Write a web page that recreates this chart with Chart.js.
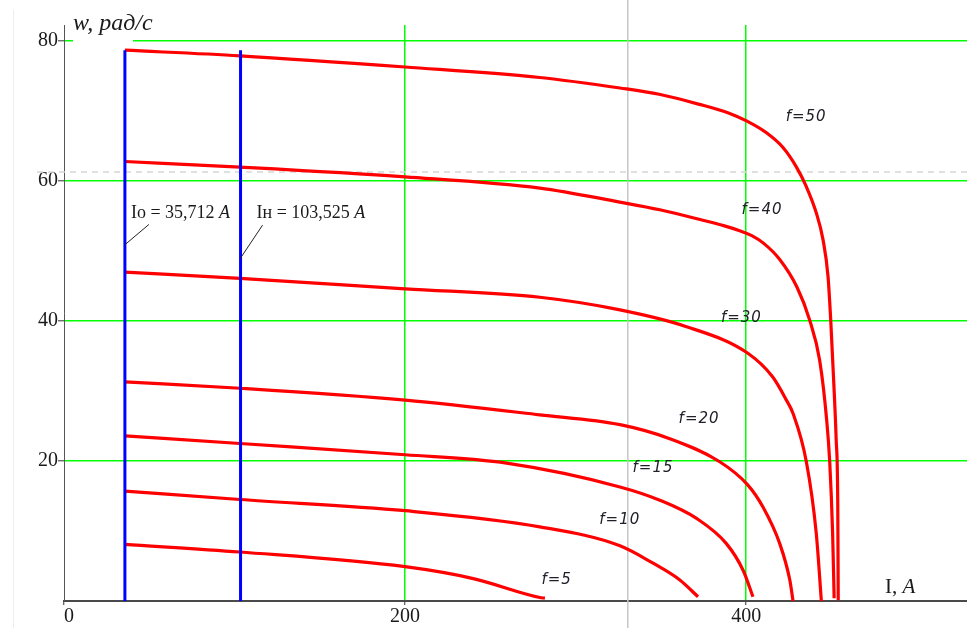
<!DOCTYPE html>
<html>
<head>
<meta charset="utf-8">
<script src="https://cdn.jsdelivr.net/npm/chart.js@4.4.1/dist/chart.umd.min.js"></script>
<style>
  html, body { margin: 0; padding: 0; background: #fff; }
  #wrap { width: 967px; height: 628px; position: relative; }
</style>
</head>
<body>
<div id="wrap"><canvas id="c" width="967" height="628"></canvas></div>
<script>
// Axis ticks and ranges
const currentTicks = [0, 200, 400];
const speedTicks = [20, 40, 60, 80];
const currentMax = 529.5;
const speedMax = 82.3;

// Mechanical characteristics w(I) for each supply frequency
const f5I  = [35.7, 103.2, 200, 240, 279, 282];
const f5W  = [8.1, 7.0, 4.9, 3.2, 0.5, 0.4];
const f10I = [35.7, 103.2, 200, 279, 326, 345.4, 361.1, 371.8];
const f10W = [15.7, 14.5, 12.9, 10.6, 7.9, 5.4, 3.0, 0.6];
const f15I = [35.7, 103.2, 200, 259.5, 326, 349.4, 370.9, 388.4, 398.2, 404];
const f15W = [23.6, 22.5, 20.9, 19.7, 16.3, 14.4, 11.8, 8.2, 4.4, 0.6];
const f20I = [35.7, 103.2, 200, 279, 326, 355.2, 384.5, 400.9, 409.7, 419.7, 425.6, 427.5];
const f20W = [31.3, 30.4, 28.7, 26.6, 25.2, 23.2, 19.9, 16.6, 13.5, 8.2, 3.0, 0];
const f30I = [35.7, 103.2, 200, 279, 326, 365, 401, 415.6, 423.6, 427.5, 435.3, 441.1, 444.1];
const f30W = [47.0, 46.1, 44.6, 43.4, 41.6, 39.2, 35.4, 32.0, 28.7, 26.8, 19.9, 9.7, 0];
const f40I = [35.7, 103.2, 200, 279, 325.9, 349.4, 374.6, 387.3, 396.2, 403.3, 410.3, 419.7, 429.7, 437.3, 443.1, 447.2, 449.0, 450.7, 451.6];
const f40W = [62.8, 62.0, 60.6, 59.0, 57.0, 55.9, 54.4, 53.6, 52.9, 52.2, 51.1, 48.8, 44.9, 40.1, 34.4, 25.9, 19.9, 9.7, 0.4];
const f50I = [35.7, 103.2, 200, 279, 326, 349, 372, 390, 400.2, 411.9, 421.6, 429.5, 435.3, 441.2, 445.1, 448.0, 449.6, 451.3, 452.8, 453.7, 454.0];
const f50W = [78.7, 77.9, 76.3, 74.8, 73.3, 72.4, 71.0, 69.7, 68.6, 66.9, 64.8, 62.0, 59.2, 55.4, 51.6, 46.4, 40.1, 31.6, 23.0, 14.4, 0.1];

// Curve captions and where they sit (I, w)
const curveNames = ['f=5', 'f=10', 'f=15', 'f=20', 'f=30', 'f=40', 'f=50'];
const captionI = [288.9, 325.9, 345.4, 372.4, 397.2, 409.3, 435.2];
const captionW = [3.0, 11.6, 19.0, 26.0, 40.4, 55.9, 69.2];

// No-load and rated currents
const ioCurrent = 35.712;
const nomCurrent = 103.525;
const ioText = '35,712';
const nomText = '103,525';
const markerTop = 78.7;

// Trace cursor
const traceI = 330.6;
const traceW = 61.3;

const toPoints = (I, W) => I.map((v, i) => ({ x: v, y: W[i] }));
const curveSets = [[f5I, f5W], [f10I, f10W], [f15I, f15W], [f20I, f20W], [f30I, f30W], [f40I, f40W], [f50I, f50W]];

const RED = '#ff0000', BLUE = '#0000ff', GREEN = '#00ff00';
const SERIF = '"Liberation Serif", "Times New Roman", serif';

const datasets = [
  { label: 'Io', data: [{ x: ioCurrent, y: 0 }, { x: ioCurrent, y: markerTop }], borderColor: BLUE, borderWidth: 3, tension: 0 },
  { label: 'Iн', data: [{ x: nomCurrent, y: 0 }, { x: nomCurrent, y: markerTop }], borderColor: BLUE, borderWidth: 3, tension: 0 }
].concat(curveSets.map(([I, W], k) => ({
  label: curveNames[k],
  data: toPoints(I, W),
  borderColor: RED,
  borderWidth: 3.2,
  cubicInterpolationMode: 'monotone'
})));

function drawMixed(ctx, x, y, parts) {
  let cx = x;
  for (const [text, font] of parts) {
    ctx.font = font;
    ctx.fillText(text, cx, y);
    cx += ctx.measureText(text).width;
  }
}

const overlay = {
  id: 'overlay',
  beforeDatasetsDraw(chart) {
    const { ctx, chartArea: a, scales: { x, y } } = chart;
    ctx.save();
    // faint frame edge on the left
    ctx.strokeStyle = '#eeeeee';
    ctx.lineWidth = 1;
    ctx.beginPath(); ctx.moveTo(13.5, 10); ctx.lineTo(13.5, chart.height); ctx.stroke();
    // gap in the top gridline under the axis caption
    ctx.fillStyle = '#ffffff';
    const y80 = y.getPixelForValue(speedTicks[speedTicks.length - 1]);
    ctx.fillRect(a.left + 9, y80 - 2, 60, 4);
    // trace cursor lines
    ctx.strokeStyle = '#c6c6c6';
    ctx.lineWidth = 1.5;
    const tx = x.getPixelForValue(traceI);
    ctx.beginPath(); ctx.moveTo(tx, 0); ctx.lineTo(tx, chart.height); ctx.stroke();
    ctx.setLineDash([6, 5]);
    ctx.strokeStyle = '#d6d6d6';
    const ty = y.getPixelForValue(traceW);
    ctx.beginPath(); ctx.moveTo(37, ty); ctx.lineTo(chart.width, ty); ctx.stroke();
    ctx.restore();
  },
  afterDraw(chart) {
    const { ctx, chartArea: a, scales: { x, y } } = chart;
    ctx.save();
    ctx.fillStyle = '#1a1a1a';
    ctx.textBaseline = 'alphabetic';

    // axis captions
    ctx.textAlign = 'left';
    drawMixed(ctx, a.left + 9, 30, [['w, рад/с', 'italic 24px ' + SERIF]]);
    drawMixed(ctx, a.right - 82, a.bottom - 8, [['I, ', '21px ' + SERIF], ['A', 'italic 21px ' + SERIF]]);

    // current annotations with leader lines
    const yText = y.getPixelForValue(54.7);
    const ioX = x.getPixelForValue(ioCurrent);
    const nomX = x.getPixelForValue(nomCurrent);
    ctx.strokeStyle = '#222';
    ctx.lineWidth = 1;
    ctx.beginPath();
    ctx.moveTo(ioX, y.getPixelForValue(50.9)); ctx.lineTo(ioX + 24, y.getPixelForValue(53.8));
    ctx.moveTo(nomX, y.getPixelForValue(49.0)); ctx.lineTo(nomX + 22, y.getPixelForValue(53.7));
    ctx.stroke();
    drawMixed(ctx, ioX + 6, yText, [['Io = ' + ioText + ' ', '18px ' + SERIF], ['A', 'italic 18px ' + SERIF]]);
    drawMixed(ctx, nomX + 16, yText, [['Iн = ' + nomText + ' ', '18px ' + SERIF], ['A', 'italic 18px ' + SERIF]]);

    // frequency captions
    ctx.textAlign = 'center';
    ctx.textBaseline = 'middle';
    ctx.font = 'italic 15px "DejaVu Sans", sans-serif';
    if ('letterSpacing' in ctx) ctx.letterSpacing = '1px';
    ctx.fillStyle = '#20202a';
    curveNames.forEach((name, k) => {
      ctx.fillText(name, x.getPixelForValue(captionI[k]), y.getPixelForValue(captionW[k]));
    });
    ctx.restore();
  }
};

const xGridColor = ctx => (ctx.tick && ctx.tick.value === 0) ? 'rgba(0,0,0,0)' : GREEN;

new Chart(document.getElementById('c'), {
  type: 'scatter',
  data: { datasets },
  options: {
    responsive: false,
    animation: false,
    devicePixelRatio: 1,
    layout: { padding: { top: 25, right: 0, bottom: 0, left: 0 } },
    elements: { point: { radius: 0, hoverRadius: 0 }, line: { borderCapStyle: 'butt', borderJoinStyle: 'round' } },
    datasets: { scatter: { showLine: true, pointRadius: 0 } },
    plugins: { legend: { display: false }, tooltip: { enabled: false } },
    events: [],
    scales: {
      x: {
        type: 'linear',
        min: 0,
        max: currentMax,
        afterBuildTicks: s => { s.ticks = currentTicks.map(v => ({ value: v })); },
        afterFit: s => { s.height = 27; },
        grid: { color: xGridColor, lineWidth: 1.5, tickLength: 4, tickColor: '#333', tickWidth: 1 },
        border: { color: '#4a4a4a', width: 2 },
        ticks: {
          font: { family: SERIF, size: 20 }, color: '#1a1a1a', padding: 0, maxRotation: 0, autoSkip: false,
          callback: v => (v === 0 ? '  0' : String(v))
        }
      },
      y: {
        type: 'linear',
        min: 0,
        max: speedMax,
        afterBuildTicks: s => { s.ticks = speedTicks.map(v => ({ value: v })); },
        afterFit: s => { s.width = 64; },
        grid: { color: GREEN, lineWidth: 1.6, tickLength: 6, tickColor: '#333', tickWidth: 1 },
        border: { color: '#555', width: 1 },
        ticks: { font: { family: SERIF, size: 20 }, color: '#1a1a1a', padding: 0 }
      }
    }
  },
  plugins: [overlay]
});
</script>
</body>
</html>
